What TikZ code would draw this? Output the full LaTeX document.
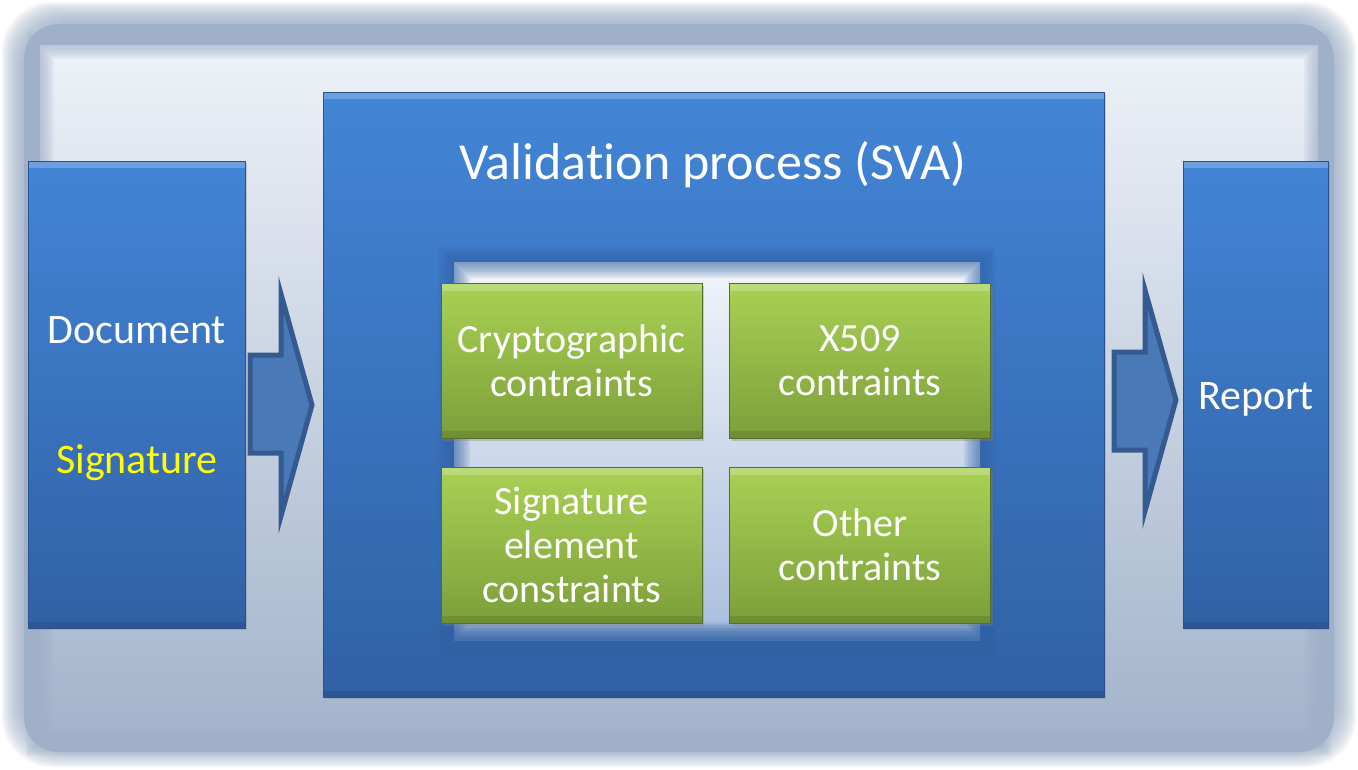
\documentclass[tikz,border=0pt]{standalone}
\usepackage{fontspec}
\setmainfont[Ligatures={NoCommon}]{Carlito}
\usetikzlibrary{shadows}
\definecolor{frameC}{HTML}{9FB0C8}
\definecolor{innerTop}{HTML}{EEF2F8}
\definecolor{innerBot}{HTML}{A2B3CB}
\definecolor{blueTop}{HTML}{4285D6}
\definecolor{blueBot}{HTML}{3161A5}
\definecolor{blueEdge}{HTML}{2A5288}
\definecolor{greenTop}{HTML}{A9D154}
\definecolor{greenBot}{HTML}{7C9F3A}
\definecolor{greenEdge}{HTML}{566F26}
\definecolor{arrFill}{HTML}{4A79B7}
\definecolor{arrEdge}{HTML}{355A8F}
\definecolor{glowTop}{HTML}{F1F4FA}
\definecolor{glowBot}{HTML}{A9BEDD}
\definecolor{sigYellow}{HTML}{FFFF00}
\tikzset{
  bluebox/.style={draw=blueEdge, line width=1pt, top color=blueTop, bottom color=blueBot,
    drop shadow={shadow xshift=2pt, shadow yshift=-2pt, opacity=0.3},
    path picture={\fill[white,opacity=0.22] (path picture bounding box.north west) rectangle ([yshift=-7pt]path picture bounding box.north east);
                  \fill[black,opacity=0.10] (path picture bounding box.south west) rectangle ([yshift=6pt]path picture bounding box.south east);}},
  greenbox/.style={draw=greenEdge, line width=1pt, top color=greenTop, bottom color=greenBot,
    minimum width=261pt, minimum height=155pt, text=white, align=center,
    font=\fontsize{40}{44}\selectfont,
    drop shadow={shadow xshift=2pt, shadow yshift=-3pt, opacity=0.35},
    path picture={\fill[white,opacity=0.22] (path picture bounding box.north west) rectangle ([yshift=-8pt]path picture bounding box.north east);
                  \fill[black,opacity=0.10] (path picture bounding box.south west) rectangle ([yshift=7pt]path picture bounding box.south east);}},
  bigtext/.style={text=white, font=\fontsize{42}{50}\selectfont, anchor=base},
  blockarrow/.style={fill=arrFill, draw=arrEdge, line width=5pt, line join=miter}
}
\begin{document}
\begin{tikzpicture}[x=1pt,y=-1pt]
\useasboundingbox (0,0) rectangle (1358,769);
% background frame
\fill[white] (0,0) rectangle (1358,769);
\foreach \i in {0,2,...,20}{
  \fill[frameC, opacity=0.13, rounded corners=50] (2+\i,2+\i) rectangle (1356-\i,767-\i);
}
\fill[frameC, rounded corners=35] (24,24) rectangle (1334,752);
\shade[top color=innerTop, bottom color=innerBot] (40,45) rectangle (1318,742);
\foreach \w in {4,8,...,28}{
  \draw[frameC, opacity=0.13, line width=\w] (40,45) rectangle (1318,742);
}

% main boxes
\node[bluebox, minimum width=217pt, minimum height=467pt] (doc) at (136.5,394.5) {};
\node[bluebox, minimum width=781pt, minimum height=605pt] (sva) at (713.5,394.5) {};
\node[bluebox, minimum width=145pt, minimum height=467pt] (rep) at (1255.5,394.5) {};

% texts in side boxes
\node[bigtext] (doctext) at (137,343) {Document};
\node[bigtext, text=sigYellow] (sigtext) at (137,473) {Signature};
\node[bigtext] (reptext) at (1256,409) {Report};
\node[text=white, font=\fontsize{52}{60}\selectfont, anchor=base] (title) at (713,179) {Validation process (SVA)};

% inner glow area
\begin{scope}
\clip (sva.south west) rectangle (sva.north east);
\shade[top color=glowTop, bottom color=glowBot] (454,262) rectangle (980,640);
\foreach \w in {4,8,...,32}{
  \draw[blueBot, opacity=0.10, line width=\w] (454,262) rectangle (980,640);
}
\foreach \w in {6,12,...,36}{
  \draw[blueBot, opacity=0.10, line width=\w] (440,640) -- (995,640);
}
\end{scope}

% green boxes
\node[greenbox] (crypto) at (571.5,360.5) {Cryptographic\\contraints};
\node[greenbox] (x509) at (860,360.5) {X509\\contraints};
\node[greenbox, minimum height=156pt] (sigel) at (571.5,545) {Signature\\element\\constraints};
\node[greenbox, minimum height=156pt] (other) at (860,545) {Other\\contraints};

% block arrows
\draw[blockarrow] (250,355) -- (281,355) -- (281,294) -- (312,405) -- (281,516) -- (281,453) -- (250,453) -- cycle;
\draw[blockarrow] (1114,352) -- (1145,352) -- (1145,290) -- (1176,400) -- (1145,511) -- (1145,450) -- (1114,450) -- cycle;
\end{tikzpicture}
\end{document}
